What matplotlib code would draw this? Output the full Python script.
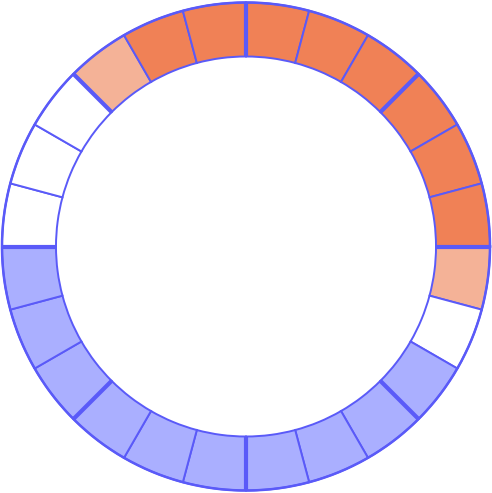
import numpy as np
import matplotlib.pyplot as plt
from matplotlib.patches import Wedge

# colours of the 24 ring segments, clockwise from 12 o'clock
dark = '#F08156'
light = '#F4B297'
blue = '#AAAFFF'
white = '#FFFFFF'
segment_colors = ([dark] * 6 + [light, white] + [blue] * 4 +
                  [blue] * 6 + [white] * 3 + [light] + [dark] * 2)
n_seg = len(segment_colors)
edge = '#5A5AF8'

W, H = 492, 493
fig = plt.figure(figsize=(W / 100, H / 100), dpi=100)
ax = fig.add_axes([0, 0, 1, 1])
ax.set_xlim(0, W)
ax.set_ylim(0, H)
ax.set_aspect('equal')
ax.axis('off')

cx, cy = 246, 246.5
r_out, r_in = 244, 190
step = 360 / n_seg

for i, c in enumerate(segment_colors):
    t2 = 90 - step * i
    t1 = t2 - step
    ax.add_patch(Wedge((cx, cy), r_out, t1, t2, width=r_out - r_in,
                       facecolor=c, edgecolor=edge, linewidth=1.4))

# thicker divider every 45 degrees
for k in range(8):
    a = np.deg2rad(90 - 45 * k)
    ax.plot([cx + r_in * np.cos(a), cx + r_out * np.cos(a)],
            [cy + r_in * np.sin(a), cy + r_out * np.sin(a)],
            color=edge, linewidth=3, solid_capstyle='butt')

# outer rim
th = np.linspace(0, 2 * np.pi, 400)
ax.plot(cx + r_out * np.cos(th), cy + r_out * np.sin(th), color=edge, linewidth=1.8)

fig.savefig('out.png', dpi=100)
